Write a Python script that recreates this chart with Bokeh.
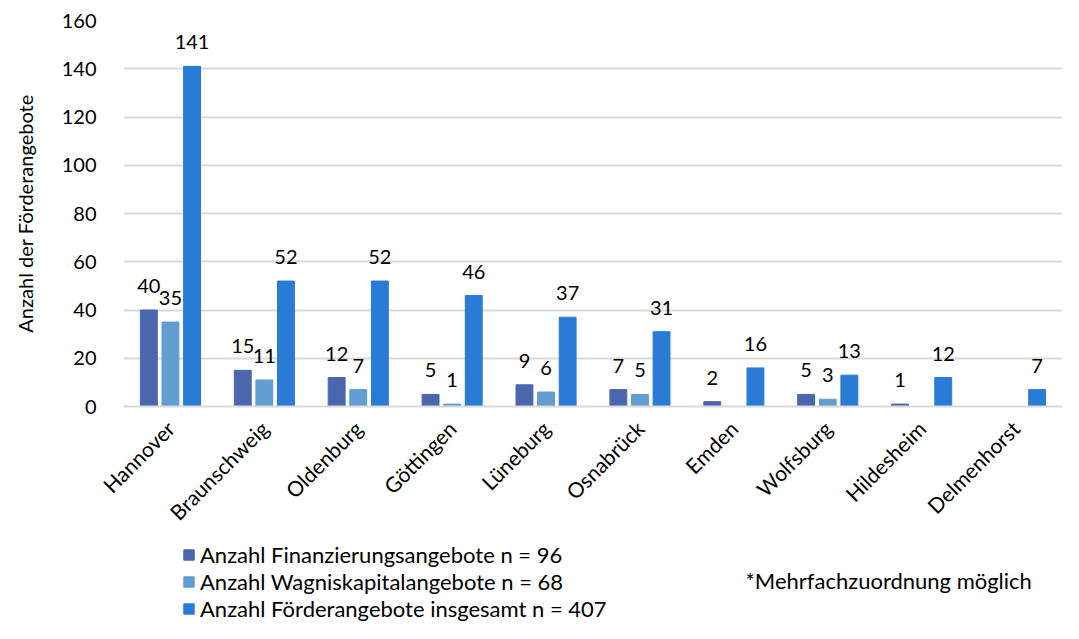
import math
from bokeh.plotting import figure
from bokeh.layouts import column
from bokeh.models import ColumnDataSource, FactorRange, Range1d, Legend, LegendItem, Label, FixedTicker
from bokeh.transform import dodge
from bokeh.core.properties import value
from bokeh.embed import file_html
from bokeh.resources import INLINE

cities = ["Hannover", "Braunschweig", "Oldenburg", "Göttingen", "Lüneburg",
          "Osnabrück", "Emden", "Wolfsburg", "Hildesheim", "Delmenhorst"]
finanzierung = [40, 15, 12, 5, 9, 7, 2, 5, 1, 0]
wagnis = [35, 11, 7, 1, 6, 5, 0, 3, 0, 0]
foerder = [141, 52, 52, 46, 37, 31, 16, 13, 12, 7]
series_names = ["Anzahl Finanzierungsangebote n = 96",
                "Anzahl Wagniskapitalangebote n = 68",
                "Anzahl Förderangebote insgesamt n = 407"]
colors = ["#4A66AC", "#629DD1", "#2A7BD6"]
y_ticks = [0, 20, 40, 60, 80, 100, 120, 140, 160]
footnote = "*Mehrfachzuordnung möglich"

FONT = "Lato"
FS = "20px"

p = figure(x_range=FactorRange(factors=cities, range_padding=0),
           y_range=Range1d(0, 160),
           width=1063, height=538, output_backend="svg", toolbar_location=None,
           min_border_left=123, min_border_right=1, min_border_top=20, min_border_bottom=132)
p.outline_line_color = None

offsets = [-0.23, 0.0, 0.23]
for vals, col, off in zip([finanzierung, wagnis, foerder], colors, offsets):
    src = ColumnDataSource(dict(city=cities, val=vals))
    p.vbar(x=dodge("city", off, range=p.x_range), top="val", width=0.18,
           source=src, fill_color=col, line_color=col)
    nz = [(c, v) for c, v in zip(cities, vals) if v > 0]
    lsrc = ColumnDataSource(dict(city=[c for c, v in nz], val=[v for c, v in nz],
                                 txt=[str(v) for c, v in nz]))
    p.text(x=dodge("city", off, range=p.x_range), y="val", text="txt", source=lsrc,
           text_align="center", text_baseline="bottom", y_offset=-17,
           text_font=value(FONT), text_font_size=FS, text_color="#000000")

p.yaxis.ticker = FixedTicker(ticks=y_ticks)
p.yaxis.axis_line_color = None
p.yaxis.major_tick_line_color = None
p.yaxis.minor_tick_line_color = None
p.yaxis.major_label_text_font = FONT
p.yaxis.major_label_text_font_size = FS
p.yaxis.major_label_text_color = "#000000"
p.yaxis.axis_label = "Anzahl der Förderangebote"
p.yaxis.axis_label_text_font = FONT
p.yaxis.axis_label_text_font_size = "20px"
p.yaxis.axis_label_text_font_style = "normal"
p.yaxis.axis_label_text_color = "#000000"
p.yaxis.axis_label_standoff = 22
p.yaxis.major_label_standoff = 21

p.xaxis.axis_line_color = "#D9D9D9"
p.xaxis.axis_line_width = 2
p.xaxis.major_tick_line_color = None
p.xaxis.minor_tick_line_color = None
p.xaxis.major_label_orientation = math.pi / 4
p.xaxis.major_label_text_font = FONT
p.xaxis.major_label_text_font_size = "21px"
p.xaxis.major_label_text_color = "#000000"
p.xaxis.major_label_standoff = 12

p.xgrid.grid_line_color = None
p.ygrid.grid_line_color = "#D9D9D9"
p.ygrid.grid_line_width = 2

# legend panel: proxy bars of the same series, lying entirely below its visible range
q = figure(x_range=Range1d(0, 10), y_range=Range1d(1000, 1001), width=1063, height=85,
           output_backend="svg", toolbar_location=None,
           x_axis_location=None, y_axis_location=None,
           min_border_left=0, min_border_right=0, min_border_top=0, min_border_bottom=0)
q.outline_line_color = None
q.grid.visible = False
proxies = []
for vals, col in zip([finanzierung, wagnis, foerder], colors):
    proxies.append(q.vbar(x=list(range(len(vals))), top=vals, width=0.1,
                          fill_color=col, line_color=col))

legend = Legend(items=[LegendItem(label=n, renderers=[r]) for n, r in zip(series_names, proxies)],
                orientation="vertical", location=(59, 1),
                label_text_font=FONT, label_text_font_size="22px", label_text_color="#000000",
                glyph_width=13, glyph_height=13, spacing=0, padding=0, margin=0,
                label_standoff=5, border_line_color=None, background_fill_alpha=0,
                label_height=22)
q.add_layout(legend)

note = Label(x=622, y=43, x_units="screen", y_units="screen", text=footnote,
             text_font=FONT, text_font_size="22px", text_color="#000000", text_baseline="middle")
q.add_layout(note)

open("out.html", "w").write(file_html(column(p, q, spacing=0), INLINE))
